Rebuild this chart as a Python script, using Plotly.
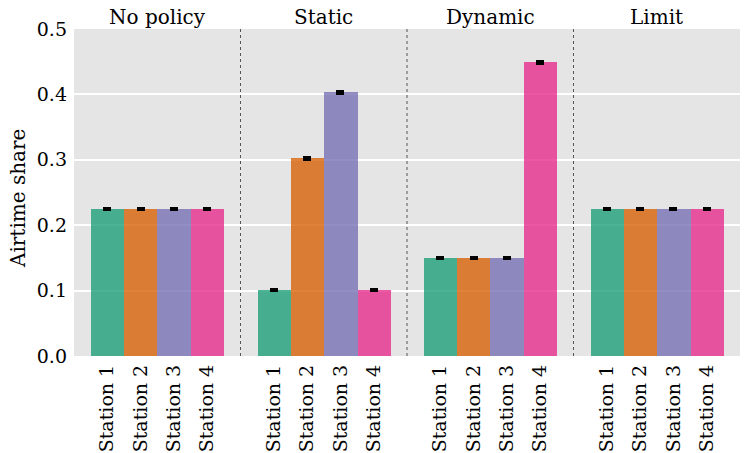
import plotly.graph_objects as go
from plotly.subplots import make_subplots

panels = ["No policy", "Static", "Dynamic", "Limit"]
stations = ["Station 1", "Station 2", "Station 3", "Station 4"]
values = {
    "No policy": [0.225, 0.225, 0.225, 0.225],
    "Static": [0.101, 0.302, 0.403, 0.101],
    "Dynamic": [0.150, 0.150, 0.150, 0.449],
    "Limit": [0.225, 0.225, 0.225, 0.225],
}
errors = {
    "No policy": [0.001, 0.001, 0.001, 0.001],
    "Static": [0.001, 0.001, 0.001, 0.001],
    "Dynamic": [0.001, 0.001, 0.001, 0.001],
    "Limit": [0.001, 0.001, 0.001, 0.001],
}
colors = ["rgba(27,158,119,0.78)", "rgba(217,95,2,0.78)",
          "rgba(117,112,179,0.78)", "rgba(231,41,138,0.78)"]
yticks = [0.0, 0.1, 0.2, 0.3, 0.4, 0.5]

FONT = "DejaVu Serif"

fig = make_subplots(rows=1, cols=4, shared_yaxes=True, horizontal_spacing=0,
                    subplot_titles=panels)

for i, p in enumerate(panels):
    fig.add_trace(go.Bar(
        x=stations, y=values[p], marker=dict(color=colors, line=dict(width=0)),
        width=1.0,
        error_y=dict(type="data", array=errors[p], color="black", thickness=3, width=4),
        showlegend=False,
    ), row=1, col=i + 1)
    fig.update_xaxes(range=[-1, 4], showgrid=False, tickangle=-90,
                     tickfont=dict(family=FONT, size=19, color="black"),
                     ticks="", zeroline=False, automargin=False,
                     ticklabelstandoff=4, row=1, col=i + 1)

fig.update_yaxes(range=[0, 0.5], tickvals=yticks, tickformat=".1f",
                 gridcolor="white", gridwidth=2, zeroline=False, automargin=False,
                 ticklabelstandoff=6,
                 tickfont=dict(family=FONT, size=19, color="black"))

for a in fig.layout.annotations:
    a.font = dict(family=FONT, size=20, color="black")
    a.yshift = -2

for xp in [0.25, 0.5, 0.75]:
    fig.add_shape(type="line", xref="paper", yref="paper", x0=xp, x1=xp, y0=0, y1=1,
                  line=dict(color="#555555", width=1, dash="dot"))

fig.add_annotation(text="Airtime share", xref="paper", yref="paper", x=0, y=0.48,
                   xshift=-56, xanchor="center", yanchor="middle", textangle=-90,
                   showarrow=False,
                   font=dict(family=FONT, size=20, color="black"))

fig.update_layout(
    width=750, height=453, margin=dict(l=74, r=10, t=29, b=97),
    plot_bgcolor="#e5e5e5", paper_bgcolor="white", bargap=0,
    font=dict(family=FONT, color="black"),
)

fig.write_html("out.html")
